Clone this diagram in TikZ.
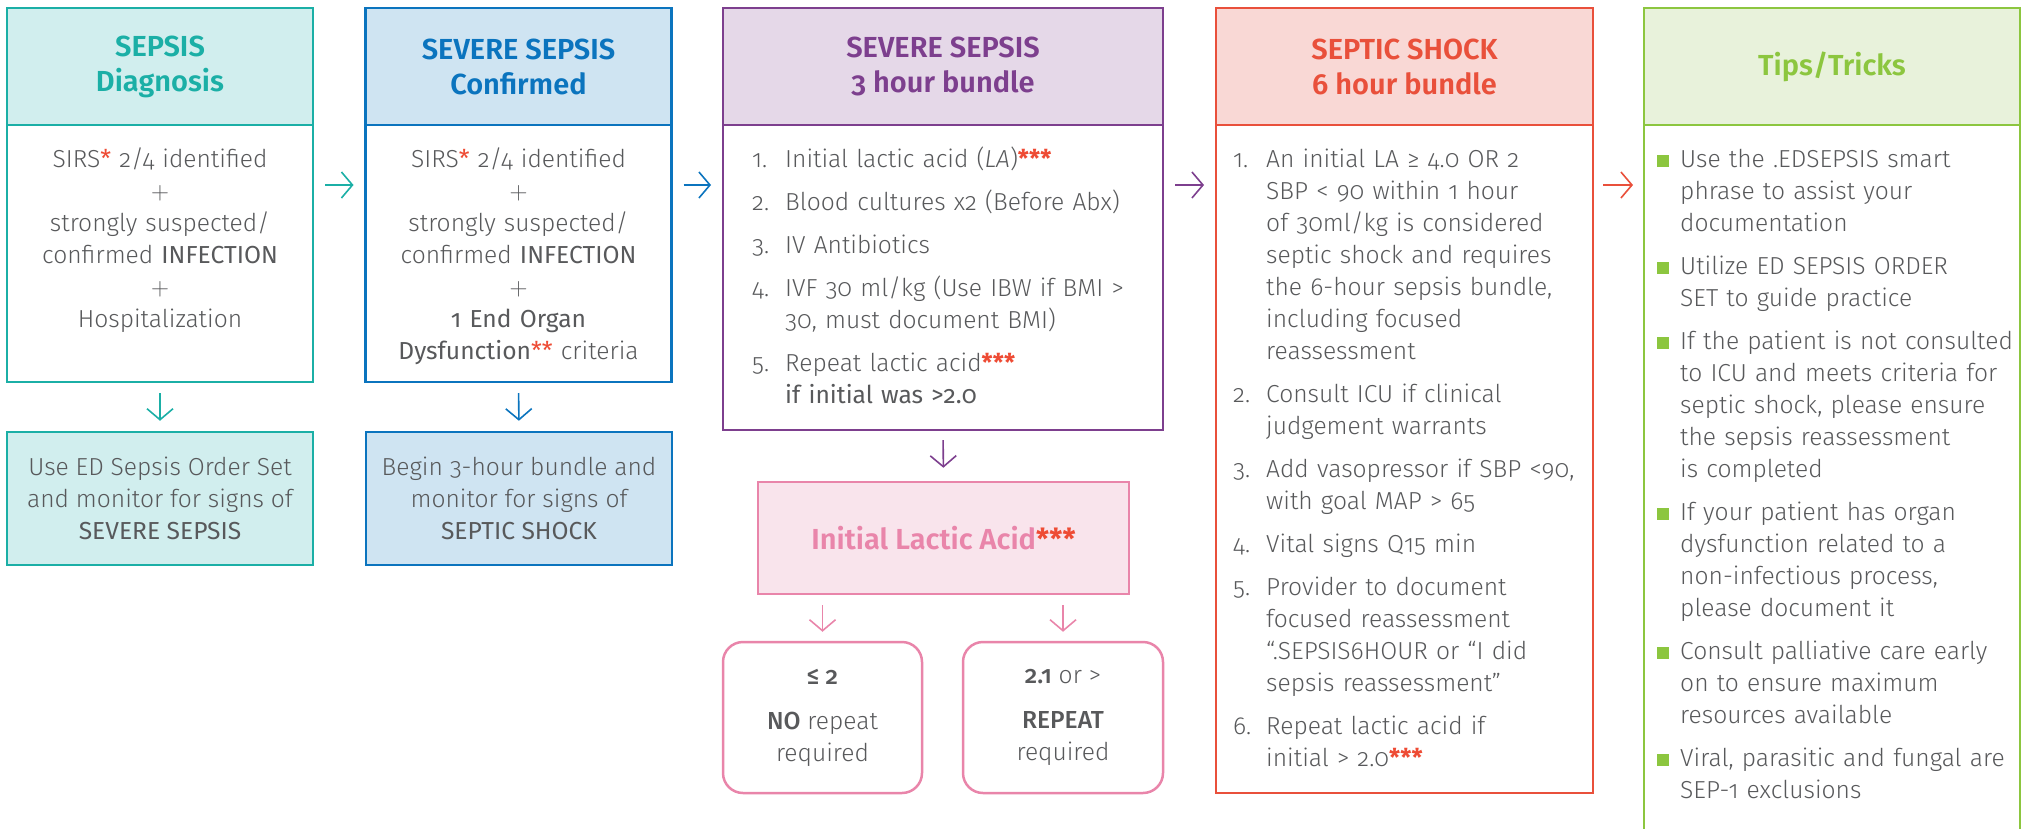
\documentclass[tikz,border=0pt]{standalone}
\usepackage{fontspec}
\setmainfont{Fira Sans Light}[BoldFont={Fira Sans SemiBold},ItalicFont={Fira Sans Light Italic},Numbers=OldStyle]
\newfontfamily\regfont{Fira Sans}[Numbers=OldStyle]
\newfontfamily\medfont{Fira Sans Medium}[Numbers=OldStyle]
\usetikzlibrary{arrows.meta,positioning}

\definecolor{sepTeal}{HTML}{1BAFA6}
\definecolor{tealFill}{HTML}{D1EEEE}
\definecolor{sepBlue}{HTML}{0B74BE}
\definecolor{blueFill}{HTML}{CFE4F2}
\definecolor{sepPurple}{HTML}{7D3F8E}
\definecolor{purpleFill}{HTML}{E5D8E8}
\definecolor{sepRed}{HTML}{E9503B}
\definecolor{redFill}{HTML}{F9D8D5}
\definecolor{tipGreen}{HTML}{8CC63F}
\definecolor{greenFill}{HTML}{E8F2DB}
\definecolor{lacPink}{HTML}{E985AA}
\definecolor{lacFill}{HTML}{F9E4EC}
\definecolor{txtGray}{HTML}{58595B}
\definecolor{starRed}{HTML}{EE4B34}

\newcommand{\rstar}[1]{\textcolor{starRed}{\regfont #1}}
\newcommand{\numitem}[2]{\hangindent=33pt\hangafter=1\noindent\makebox[33pt][l]{#1}#2\par}
\newcommand{\tipitem}[1]{\hangindent=23pt\hangafter=1\noindent\makebox[23pt][l]{\textcolor{tipGreen}{\rule{12pt}{12pt}}}#1\par}

\tikzset{
  hdr/.style={draw, line width=2.5pt, inner sep=0pt, outer sep=0pt, minimum height=117pt,
    align=center, font=\bfseries\fontsize{29}{35}\selectfont},
  bodybox/.style={draw, line width=2.5pt, fill=white, inner sep=0pt, outer sep=0pt},
  bodytxt/.style={inner sep=0pt, text=txtGray, font=\fontsize{24.6}{32}\selectfont},
  arr/.style={-{Straight Barb[length=11pt,width=26pt]}, line width=1.6pt},
}

\begin{document}
\begin{tikzpicture}[x=1pt, y=-1pt]
\clip (0,0) rectangle (2023,828);

% column headers
\node[hdr, draw=sepTeal, fill=tealFill, text=sepTeal, minimum width=306pt] (h1) at (160,66.5) {SEPSIS\\Diagnosis};
\node[hdr, draw=sepBlue, fill=blueFill, text=sepBlue, minimum width=306pt] (h2) at (518.5,66.5) {SEVERE SEPSIS\\Confirmed};
\node[hdr, draw=sepPurple, fill=purpleFill, text=sepPurple, minimum width=440pt] (h3) at (943,66.5) {SEVERE SEPSIS\\3 hour bundle};
\node[hdr, draw=sepRed, fill=redFill, text=sepRed, minimum width=377pt] (h4) at (1404.5,66.5) {SEPTIC SHOCK\\6 hour bundle};
\node[hdr, draw=tipGreen, fill=greenFill, text=tipGreen, minimum width=376pt] (h5) at (1832,66.5) {Tips/Tricks};

% column bodies
\node[bodybox, draw=sepTeal, minimum width=306pt, minimum height=257pt, below=0pt of h1] (b1) {};
\node[bodybox, draw=sepBlue, minimum width=306pt, minimum height=257pt, below=0pt of h2] (b2) {};
\node[bodybox, draw=sepPurple, minimum width=440pt, minimum height=305pt, below=0pt of h3] (b3) {};
\node[bodybox, draw=sepRed, minimum width=377pt, minimum height=668pt, below=0pt of h4] (b4) {};
\node[bodybox, draw=tipGreen, minimum width=376pt, minimum height=725pt, below=0pt of h5] (b5) {};

\node[bodytxt, text width=300pt, align=center, anchor=base] (t1) at ([yshift=-42pt]b1.north) {%
SIRS\rstar{*} 2/4 identified\\$+$\\strongly suspected/\\confirmed {\regfont INFECTION}\\$+$\\Hospitalization};
\node[bodytxt, text width=300pt, align=center, anchor=base] (t2) at ([yshift=-42pt]b2.north) {%
SIRS\rstar{*} 2/4 identified\\$+$\\strongly suspected/\\confirmed {\regfont INFECTION}\\$+$\\{\regfont 1 End Organ}\\{\regfont Dysfunction}\rstar{**} criteria};

\node[bodytxt, text width=400pt, align=left, anchor=base west] (t3) at ([xshift=29pt,yshift=-42pt]b3.north west) {%
\numitem{1.}{Initial lactic acid (\textit{LA})\rstar{\bfseries ***}}\vspace{11pt}
\numitem{2.}{Blood cultures x2 (Before Abx)}\vspace{11pt}
\numitem{3.}{IV Antibiotics}\vspace{11pt}
\numitem{4.}{IVF 30 ml/kg (Use IBW if BMI >\newline 30, must document BMI)}\vspace{11pt}
\numitem{5.}{Repeat lactic acid\rstar{\bfseries ***}\newline {\regfont if initial was >2.0}}};

\node[bodytxt, text width=365pt, align=left, anchor=base west] (t4) at ([xshift=17pt,yshift=-42pt]b4.north west) {%
\numitem{1.}{An initial LA ≥ 4.0 OR 2\newline SBP < 90 within 1 hour\newline of 30ml/kg is considered\newline septic shock and requires\newline the 6-hour sepsis bundle,\newline including focused\newline reassessment}\vspace{11pt}
\numitem{2.}{Consult ICU if clinical\newline judgement warrants}\vspace{11pt}
\numitem{3.}{Add vasopressor if SBP <90,\newline with goal MAP > 65}\vspace{11pt}
\numitem{4.}{Vital signs Q15 min}\vspace{11pt}
\numitem{5.}{Provider to document\newline focused reassessment\newline “.SEPSIS6HOUR or “I did\newline sepsis reassessment”}\vspace{11pt}
\numitem{6.}{Repeat lactic acid if\newline initial > 2.0\rstar{\bfseries ***}}};

\node[bodytxt, text width=370pt, align=left, anchor=base west] (t5) at ([xshift=13pt,yshift=-42pt]b5.north west) {%
\tipitem{Use the .EDSEPSIS smart\newline phrase to assist your\newline documentation}\vspace{11pt}
\tipitem{Utilize ED SEPSIS ORDER\newline SET to guide practice}\vspace{11pt}
\tipitem{If the patient is not consulted\newline to ICU and meets criteria for\newline septic shock, please ensure\newline the sepsis reassessment\newline is completed}\vspace{11pt}
\tipitem{If your patient has organ\newline dysfunction related to a\newline non-infectious process,\newline please document it}\vspace{11pt}
\tipitem{Consult palliative care early\newline on to ensure maximum\newline resources available}\vspace{11pt}
\tipitem{Viral, parasitic and fungal are\newline SEP-1 exclusions}};

% lower boxes
\node[bodytxt, draw=sepTeal, fill=tealFill, line width=2.5pt, minimum width=306pt, minimum height=133pt, align=center] (low1) at (160,498.5) {Use ED Sepsis Order Set\\and monitor for signs of\\{\regfont SEVERE SEPSIS}};
\node[bodytxt, draw=sepBlue, fill=blueFill, line width=2.5pt, minimum width=306pt, minimum height=133pt, align=center] (low2) at (519,498.5) {Begin 3-hour bundle and\\monitor for signs of\\{\regfont SEPTIC SHOCK}};

\node[draw=lacPink, fill=lacFill, line width=2.5pt, minimum width=371pt, minimum height=112pt, inner sep=0pt, text=lacPink, font=\bfseries\fontsize{29}{35}\selectfont] (lactic) at (943.5,538) {Initial Lactic Acid\rstar{\bfseries ***}};

\node[bodytxt, draw=lacPink, line width=2.5pt, rounded corners=20pt, minimum width=199pt, minimum height=151pt, align=center] (noRep) at (822.5,717.5) {{\medfont ≤ 2}\\[13pt]{\medfont NO} repeat\\required};
\node[bodytxt, draw=lacPink, line width=2.5pt, rounded corners=20pt, minimum width=200pt, minimum height=151pt, align=center] (rep) at (1063,717.5) {{\medfont 2.1} or >\\[13pt]{\medfont REPEAT}\\required};

% arrows
\draw[arr, sepTeal, shorten <=12pt, shorten >=12pt] ([yshift=-60pt]b1.north east) -- ([yshift=-60pt]b2.north west);
\draw[arr, sepBlue, shorten <=12pt, shorten >=12pt] ([yshift=-60pt]b2.north east) -- ([yshift=-60pt]b3.north west);
\draw[arr, sepPurple, shorten <=12pt, shorten >=12pt] ([yshift=-60pt]b3.north east) -- ([yshift=-60pt]b4.north west);
\draw[arr, sepRed, shorten <=10pt, shorten >=11pt] ([yshift=-60pt]b4.north east) -- ([yshift=-60pt]b5.north west);
\draw[arr, sepTeal, shorten <=11pt, shorten >=10pt] (b1.south) -- (low1.north);
\draw[arr, sepBlue, shorten <=11pt, shorten >=10pt] (b2.south) -- (low2.north);
\draw[arr, sepPurple, shorten <=10pt, shorten >=13pt] (b3.south) -- (lactic.north);
\draw[arr, lacPink, shorten <=10pt, shorten >=9pt] (lactic.south -| noRep.north) -- (noRep.north);
\draw[arr, lacPink, shorten <=10pt, shorten >=9pt] (lactic.south -| rep.north) -- (rep.north);
\end{tikzpicture}
\end{document}
